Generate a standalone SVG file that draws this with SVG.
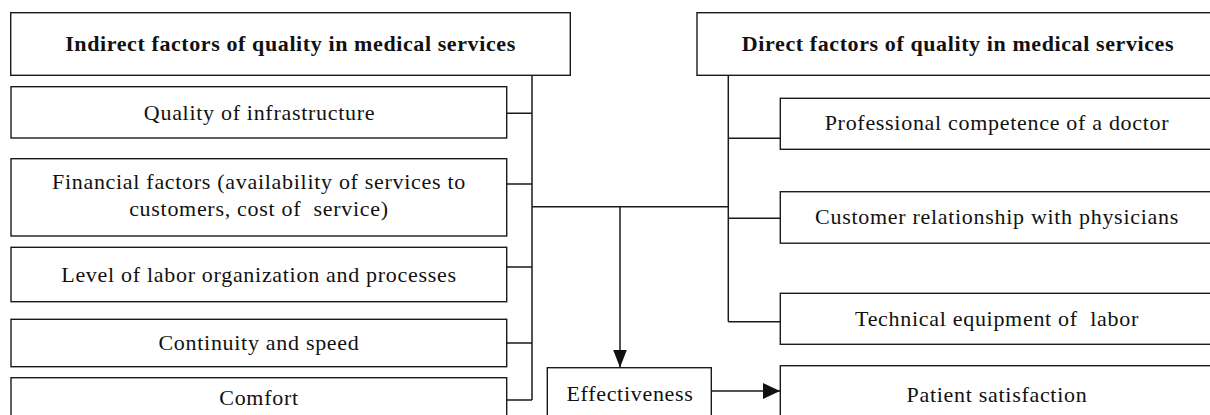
<svg xmlns="http://www.w3.org/2000/svg" width="1210" height="415" viewBox="0 0 1210 415">
<style>
.box{fill:#fff;stroke:#1a1a1a;stroke-width:1.4}
.t{font-family:"Liberation Serif","Times New Roman",serif;font-size:22px;letter-spacing:0.7px;fill:#111;text-anchor:middle}
.h{font-weight:bold;letter-spacing:0.6px}
.ln{fill:none;stroke:#1a1a1a;stroke-width:1.5}
</style>
<defs>
<marker id="arrV" markerWidth="14" markerHeight="18" viewBox="0 0 14 18" refX="7" refY="18" orient="0" markerUnits="userSpaceOnUse">
<path d="M0,0 L7,18 L14,0 Z" fill="#111"/>
</marker>
<marker id="arrH" markerWidth="17" markerHeight="16" viewBox="0 0 17 16" refX="17" refY="8" orient="0" markerUnits="userSpaceOnUse">
<path d="M0,0 L17,8 L0,16 Z" fill="#111"/>
</marker>
</defs>
<g id="connectors">
<path class="ln" d="M532,75 V400"/>
<path class="ln" d="M507,113.3 H532 M507,184 H532 M507,267 H532 M507,343 H532 M507,400 H532"/>
<path class="ln" d="M532,206.7 H728.3"/>
<path class="ln" d="M728.3,75 V321.7"/>
<path class="ln" d="M728.3,138.3 H780 M728.3,218.3 H780 M728.3,321.7 H780"/>
<path class="ln" d="M620,206.7 V367.5" marker-end="url(#arrV)"/>
<path class="ln" d="M711.3,391 H780" marker-end="url(#arrH)"/>
</g>
<g id="indirect-header"><rect class="box" x="10.7" y="12.7" width="559.6" height="62.6"/><text class="t h" x="290.5" y="51">Indirect factors of quality in medical services</text></g>
<g id="direct-header"><rect class="box" x="697" y="12.7" width="525" height="62.6"/><text class="t h" x="958" y="51">Direct factors of quality in medical services</text></g>
<g id="quality-infrastructure"><rect class="box" x="11" y="86.7" width="495.7" height="51.3"/><text class="t" x="259.5" y="119.5">Quality of infrastructure</text></g>
<g id="financial-factors"><rect class="box" x="11" y="158.7" width="495.7" height="77.3"/><text class="t" x="259" y="189">Financial factors (availability of services to</text><text class="t" x="259" y="215.5" xml:space="preserve">customers, cost of  service)</text></g>
<g id="labor-organization"><rect class="box" x="11" y="247.3" width="495.7" height="54.4"/><text class="t" x="259" y="282">Level of labor organization and processes</text></g>
<g id="continuity-speed"><rect class="box" x="11" y="319.3" width="495.7" height="47.4"/><text class="t" x="259" y="349.5">Continuity and speed</text></g>
<g id="comfort"><rect class="box" x="11" y="377.7" width="495.7" height="45"/><text class="t" x="259" y="405">Comfort</text></g>
<g id="professional-competence"><rect class="box" x="780.3" y="98.3" width="440" height="51"/><text class="t" x="997" y="130">Professional competence of a doctor</text></g>
<g id="customer-relationship"><rect class="box" x="780.3" y="191.7" width="440" height="51.5"/><text class="t" x="997" y="224">Customer relationship with physicians</text></g>
<g id="technical-equipment"><rect class="box" x="780.3" y="293.3" width="440" height="51"/><text class="t" x="997" y="325.5" xml:space="preserve">Technical equipment of  labor</text></g>
<g id="effectiveness"><rect class="box" x="547.3" y="367.7" width="164" height="55"/><text class="t" x="630" y="400.5">Effectiveness</text></g>
<g id="patient-satisfaction"><rect class="box" x="780.3" y="365.7" width="440" height="57"/><text class="t" x="997" y="401.5">Patient satisfaction</text></g>
</svg>
